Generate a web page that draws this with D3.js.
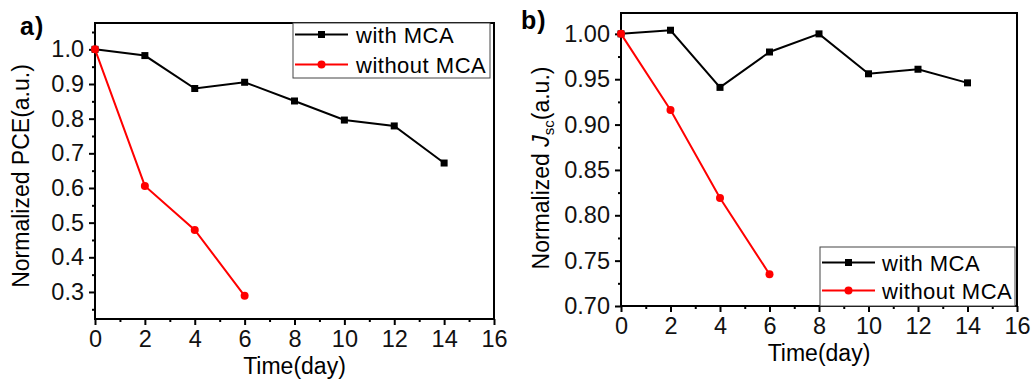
<!DOCTYPE html>
<html>
<head>
<meta charset="utf-8">
<script src="https://cdn.jsdelivr.net/npm/d3@7"></script>
<style>
  body { margin: 0; background: #fff; }
  svg { display: block; font-family: 'Liberation Sans', Arial, sans-serif; }
</style>
</head>
<body>
<div class="graph-container"></div>
<script>
// time points (days)
var days = [0, 2, 4, 6, 8, 10, 12, 14];
var daysWithout = [0, 2, 4, 6];
var xTicks = [0, 2, 4, 6, 8, 10, 12, 14, 16];

// panel a) normalized PCE
var pceWith = [1.0, 0.982, 0.887, 0.905, 0.851, 0.796, 0.779, 0.672];
var pceWithout = [1.0, 0.606, 0.479, 0.289];
var pceTicks = [0.3, 0.4, 0.5, 0.6, 0.7, 0.8, 0.9, 1.0];

// panel b) normalized Jsc
var jscWith = [1.0, 1.004, 0.941, 0.980, 1.0, 0.956, 0.961, 0.946];
var jscWithout = [1.0, 0.916, 0.819, 0.735];
var jscTicks = [0.70, 0.75, 0.80, 0.85, 0.90, 0.95, 1.00];

var seriesNames = ['with MCA', 'without MCA'];

var svgWidth = 1033;
var svgHeight = 382;
var fontSize = 23;
var tickFontSize = 23.5;

var svg = d3.select('.graph-container').append('svg')
    .attr('width', svgWidth)
    .attr('height', svgHeight);

var panels = [
    {
        label: 'a)', labelX: 20, labelY: 35,
        left: 95, right: 494, top: 23, bottom: 319,
        yDomain: [0.222, 1.076], yTicks: pceTicks, yFormat: '.1f', yMinorStep: 0.1,
        withData: pceWith, withoutData: pceWithout,
        titleX: 28.5, titleY: 176,
        xTitleY: 374,
        legend: { x: 293, y: 23, w: 197, h: 55, lineX1: 295, lineX2: 348, textX: 356, rows: [34.5, 64.5] },
        jsc: false
    },
    {
        label: 'b)', labelX: 521, labelY: 29,
        left: 621, right: 1017, top: 13, bottom: 306,
        yDomain: [0.70, 1.023], yTicks: jscTicks, yFormat: '.2f', yMinorStep: 0.05,
        withData: jscWith, withoutData: jscWithout,
        titleX: 548.5, titleY: 168,
        xTitleY: 361,
        legend: { x: 820, y: 247, w: 195, h: 59, lineX1: 822, lineX2: 875, textX: 882, rows: [262.5, 290.5] },
        jsc: true
    }
];

panels.forEach(drawPanel);

function drawPanel(p) {
    var xScale = d3.scaleLinear().domain([0, 16]).range([p.left, p.right]);
    var yScale = d3.scaleLinear().domain(p.yDomain).range([p.bottom, p.top]);

    var g = svg.append('g');

    // minor ticks
    var xMinor = d3.range(1, 16, 2);
    var yMinor = p.yTicks.map(function(t) { return t - p.yMinorStep / 2; })
        .concat([p.yTicks[p.yTicks.length - 1] + p.yMinorStep / 2])
        .filter(function(t) { return t >= p.yDomain[0] && t <= p.yDomain[1]; });

    g.append('g')
        .attr('transform', 'translate(0,' + p.bottom + ')')
        .call(d3.axisBottom(xScale).tickValues(xMinor).tickSize(3).tickFormat(''))
        .call(styleAxis);

    g.append('g')
        .attr('transform', 'translate(' + p.left + ',0)')
        .call(d3.axisLeft(yScale).tickValues(yMinor).tickSize(3).tickFormat(''))
        .call(styleAxis);

    // major ticks with labels
    var xAxis = d3.axisBottom(xScale).tickValues(xTicks).tickSize(6).tickPadding(5);
    g.append('g')
        .attr('transform', 'translate(0,' + p.bottom + ')')
        .call(xAxis)
        .call(styleAxis);

    var yAxis = d3.axisLeft(yScale).tickValues(p.yTicks).tickSize(6).tickPadding(5)
        .tickFormat(d3.format(p.yFormat));
    g.append('g')
        .attr('transform', 'translate(' + p.left + ',0)')
        .call(yAxis)
        .call(styleAxis);

    // frame
    g.append('rect')
        .attr('x', p.left)
        .attr('y', p.top)
        .attr('width', p.right - p.left)
        .attr('height', p.bottom - p.top)
        .attr('fill', 'none')
        .attr('stroke', '#000')
        .attr('stroke-width', 2);

    // lines
    var line = d3.line()
        .x(function(d) { return xScale(d[0]); })
        .y(function(d) { return yScale(d[1]); });

    var withPts = days.map(function(d, i) { return [d, p.withData[i]]; });
    var withoutPts = daysWithout.map(function(d, i) { return [d, p.withoutData[i]]; });

    g.append('path')
        .datum(withPts)
        .attr('d', line)
        .attr('fill', 'none')
        .attr('stroke', '#000')
        .attr('stroke-width', 2);

    g.selectAll('.sq')
        .data(withPts)
        .enter()
        .append('rect')
        .attr('x', function(d) { return xScale(d[0]) - 3.5; })
        .attr('y', function(d) { return yScale(d[1]) - 3.5; })
        .attr('width', 7)
        .attr('height', 7)
        .attr('fill', '#000');

    g.append('path')
        .datum(withoutPts)
        .attr('d', line)
        .attr('fill', 'none')
        .attr('stroke', '#f00')
        .attr('stroke-width', 2);

    g.selectAll('.dot')
        .data(withoutPts)
        .enter()
        .append('circle')
        .attr('cx', function(d) { return xScale(d[0]); })
        .attr('cy', function(d) { return yScale(d[1]); })
        .attr('r', 4)
        .attr('fill', '#f00');

    // panel label
    g.append('text')
        .attr('x', p.labelX)
        .attr('y', p.labelY)
        .style('font-size', '25px')
        .style('font-weight', 'bold')
        .style('letter-spacing', '1px')
        .text(p.label);

    // x title
    g.append('text')
        .attr('x', (p.left + p.right) / 2)
        .attr('y', p.xTitleY)
        .style('text-anchor', 'middle')
        .style('font-size', fontSize + 'px')
        .text('Time(day)');

    // y title
    var yt = g.append('text')
        .attr('transform', 'translate(' + p.titleX + ',' + p.titleY + ') rotate(-90)')
        .style('text-anchor', 'middle')
        .style('font-size', fontSize + 'px');
    if (p.jsc) {
        yt.append('tspan').text('Normalized ');
        yt.append('tspan').style('font-style', 'italic').text('J');
        yt.append('tspan').attr('dy', 5).style('font-size', '15px').text('sc');
        yt.append('tspan').attr('dy', -5).text('(a.u.)');
    } else {
        yt.text('Normalized PCE(a.u.)');
    }

    // legend
    var L = p.legend;
    g.append('rect')
        .attr('x', L.x)
        .attr('y', L.y)
        .attr('width', L.w)
        .attr('height', L.h)
        .attr('fill', '#fff')
        .attr('stroke', '#444')
        .attr('stroke-width', 1);

    var colors = ['#000', '#f00'];
    seriesNames.forEach(function(name, i) {
        var cy = L.rows[i];
        g.append('line')
            .attr('x1', L.lineX1).attr('x2', L.lineX2)
            .attr('y1', cy).attr('y2', cy)
            .attr('stroke', colors[i])
            .attr('stroke-width', 2);
        var mx = (L.lineX1 + L.lineX2) / 2;
        if (i === 0) {
            g.append('rect')
                .attr('x', mx - 3.5).attr('y', cy - 3.5)
                .attr('width', 7).attr('height', 7)
                .attr('fill', colors[i]);
        } else {
            g.append('circle')
                .attr('cx', mx).attr('cy', cy).attr('r', 4)
                .attr('fill', colors[i]);
        }
        g.append('text')
            .attr('x', L.textX)
            .attr('y', cy + 8)
            .style('font-size', '22px')
            .style('letter-spacing', '0.5px')
            .text(name);
    });
}

function styleAxis(sel) {
    sel.select('.domain').remove();
    sel.selectAll('line').attr('stroke', '#000').attr('stroke-width', 2);
    sel.selectAll('text')
        .attr('fill', '#111')
        .style('font-size', tickFontSize + 'px')
        .style('font-family', "'Liberation Sans', Arial, sans-serif");
}
</script>
</body>
</html>
